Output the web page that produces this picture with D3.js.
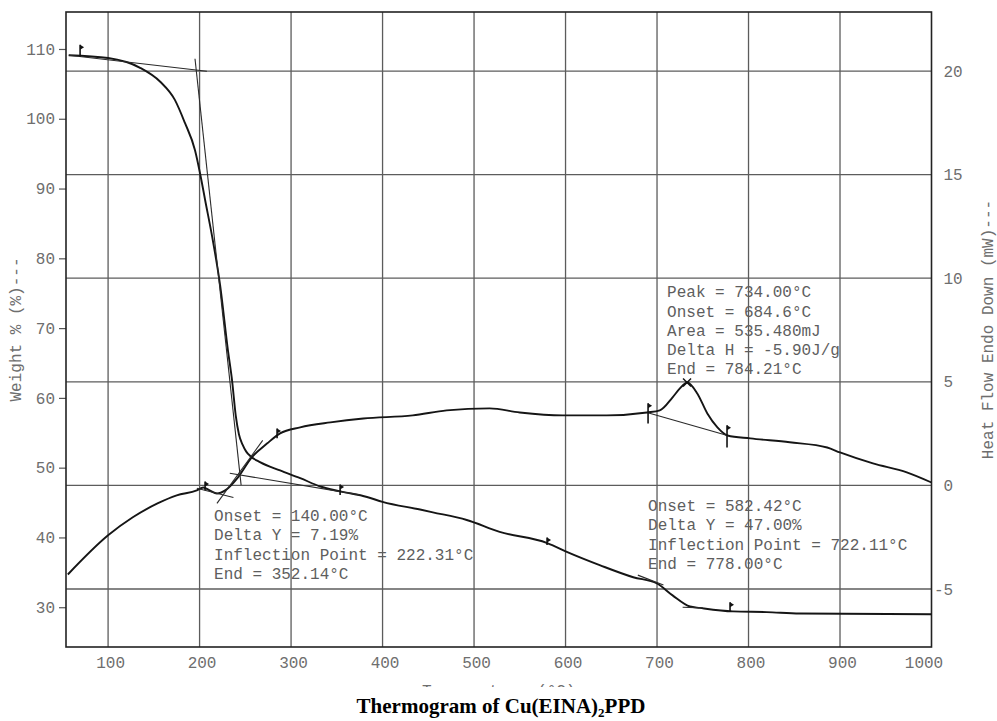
<!DOCTYPE html>
<html>
<head>
<meta charset="utf-8">
<script src="https://cdn.jsdelivr.net/npm/d3@7"></script>
<style>
  body { margin: 0; background: #fff; }
  svg { display: block; }
  .mono { font-family: "Liberation Mono", "DejaVu Sans Mono", monospace; font-size: 16px; fill: #6e6e6e; }
  .note { fill: #5e5e5e; }
</style>
</head>
<body>
<div id="chart"></div>
<script>
// axis ticks
const tempTicks = [100, 200, 300, 400, 500, 600, 700, 800, 900, 1000];
const weightTicks = [30, 40, 50, 60, 70, 80, 90, 100, 110];
const heatTicks = [-5, 0, 5, 10, 15, 20];

// TGA trace: temperature (°C) vs weight (%)
const tgaTemp = [57, 100, 135, 157, 173, 184, 195, 200.5, 206, 215, 222.4, 231, 235.5, 239.5, 243,
  247, 251, 256, 266, 288, 310, 332, 354, 383, 400, 441, 455, 492, 528, 580, 602, 638, 674,
  700, 717, 736, 747, 783, 820, 856, 1000];
const tgaWeight = [109.1, 108.7, 107.3, 105.3, 102.7, 99.4, 95.5, 92.2, 88.4, 82.2, 76.2, 66.8, 62.5,
  57.5, 54.8, 53.3, 52.3, 51.6, 50.8, 49.6, 48.5, 47.3, 46.6, 45.8, 45.1, 44.0, 43.6, 42.5, 40.8,
  39.2, 37.9, 36.0, 34.3, 33.4, 31.7, 30.1, 29.9, 29.4, 29.3, 29.1, 29.0];

// heat flow trace: temperature (°C) vs heat flow (mW)
const dscTemp = [56, 100, 127, 154, 175, 197, 204, 211, 219, 228, 242, 257, 274, 288, 310, 343, 379,
  433, 470, 517, 550, 597, 645, 689, 703, 717, 725, 733, 744, 755, 766, 777, 802, 845, 886, 900,
  936, 973, 1000];
const dscHeat = [-4.3, -2.41, -1.54, -0.87, -0.48, -0.24, -0.1, -0.24, -0.39, -0.24, 0.39, 1.35, 2.03,
  2.51, 2.8, 3.04, 3.23, 3.38, 3.62, 3.72, 3.52, 3.38, 3.38, 3.52, 3.62, 4.25, 4.68, 4.97, 4.44,
  3.47, 2.8, 2.41, 2.27, 2.08, 1.83, 1.59, 1.06, 0.63, 0.14];

// analysis construction lines [[t1, v1], [t2, v2]]
const tgaTangents = [
  [[57, 109.1], [208, 106.8]],
  [[195, 108.6], [245.4, 47.5]],
  [[233, 49.2], [375, 46.1]],
  [[679, 34.6], [707, 33.2]],
  [[728, 30.0], [750, 29.9]]
];
const heatTangents = [
  [[219, -0.87], [269, 2.17]],
  [[197, -0.14], [237, -0.58]],
  [[689, 3.52], [777, 2.41]]
];
// event markers [temp, top, bottom]
const tgaFlags = [[69.4, 110.6, 108.9], [353.6, 47.6, 46.1], [579.8, 40.0, 38.9], [779.8, 30.7, 29.3]];
const heatFlags = [[206, 0.19, -0.24], [284.7, 2.75, 2.27], [690.2, 3.96, 2.99], [776.5, 2.9, 1.83]];
const peakMark = [732.8, 4.97];

// result blocks
const step1Notes = ['Onset = 140.00°C', 'Delta Y = 7.19%', 'Inflection Point = 222.31°C', 'End = 352.14°C'];
const peakNotes = ['Peak = 734.00°C', 'Onset = 684.6°C', 'Area = 535.480mJ', 'Delta H = -5.90J/g', 'End = 784.21°C'];
const step2Notes = ['Onset = 582.42°C', 'Delta Y = 47.00%', 'Inflection Point = 722.11°C', 'End = 778.00°C'];

const margin = { top: 12, right: 65.5, bottom: 74, left: 66 };
const width = 997 - margin.left - margin.right;
const height = 721 - margin.top - margin.bottom;

const svg = d3.select('#chart').append('svg').attr('width', 997).attr('height', 721);
const plot = svg.append('g').attr('transform', `translate(${margin.left},${margin.top})`);

const x = d3.scaleLinear().domain([54, 1000]).range([0, width]);
const yW = d3.scaleLinear().domain([24.3, 115.3]).range([height, 0]);
const yH = d3.scaleLinear().domain([-7.8, 22.85]).range([height, 0]);

// grid
plot.append('g').selectAll('line').data(tempTicks.filter(d => d < 1000)).join('line')
  .attr('x1', d => x(d)).attr('x2', d => x(d)).attr('y1', 0).attr('y2', height)
  .attr('stroke', '#5c5c5c').attr('stroke-width', 1.3);
plot.append('g').selectAll('line').data(heatTicks).join('line')
  .attr('y1', d => yH(d)).attr('y2', d => yH(d)).attr('x1', 0).attr('x2', width)
  .attr('stroke', '#5c5c5c').attr('stroke-width', 1.3);

// axes
const left = plot.append('g')
  .call(d3.axisLeft(yW).tickValues(weightTicks).tickSize(7).tickPadding(4));
const bottom = plot.append('g').attr('transform', `translate(0,${height})`)
  .call(d3.axisBottom(x).tickValues(tempTicks).tickSize(0).tickPadding(10).tickFormat(d3.format('d')));
const right = plot.append('g').attr('transform', `translate(${width},0)`)
  .call(d3.axisRight(yH).tickValues(heatTicks).tickSize(0).tickPadding(12).tickFormat(d3.format('d')));
[left, bottom, right].forEach(a => {
  a.select('.domain').remove();
  a.selectAll('line').attr('stroke', '#555').attr('stroke-width', 1.2);
  a.selectAll('text').attr('class', 'mono').attr('font-size', null).attr('font-family', null)
    .attr('fill', null);
});
bottom.selectAll('text').attr('dx', d => d === 1000 ? -8 : 2);
right.selectAll('text').attr('x', d => 12 - (d < 0 ? 9.6 : 0)).text(d => d < 0 ? '-' + Math.abs(d) : d);

plot.append('rect').attr('width', width).attr('height', height)
  .attr('fill', 'none').attr('stroke', '#222').attr('stroke-width', 1.6);

// curves
const line = d3.line().x(d => x(d[0])).curve(d3.curveMonotoneX);
plot.append('path').datum(d3.zip(tgaTemp, tgaWeight))
  .attr('d', line.y(d => yW(d[1])))
  .attr('fill', 'none').attr('stroke', '#151515').attr('stroke-width', 1.9);
plot.append('path').datum(d3.zip(dscTemp, dscHeat))
  .attr('d', line.y(d => yH(d[1])))
  .attr('fill', 'none').attr('stroke', '#151515').attr('stroke-width', 1.9);

// construction lines
function tangents(data, y) {
  plot.append('g').selectAll('line').data(data).join('line')
    .attr('x1', d => x(d[0][0])).attr('y1', d => y(d[0][1]))
    .attr('x2', d => x(d[1][0])).attr('y2', d => y(d[1][1]))
    .attr('stroke', '#2a2a2a').attr('stroke-width', 1.1);
}
tangents(tgaTangents, yW);
tangents(heatTangents, yH);

function flags(data, y) {
  const g = plot.append('g').selectAll('g').data(data).join('g');
  g.append('line')
    .attr('x1', d => x(d[0])).attr('x2', d => x(d[0]))
    .attr('y1', d => y(d[1])).attr('y2', d => y(d[2]))
    .attr('stroke', '#111').attr('stroke-width', 1.6);
  g.append('path')
    .attr('d', d => `M${x(d[0])},${y(d[1])}l4,2.5l-4,2.5z`)
    .attr('fill', '#111');
}
flags(tgaFlags, yW);
flags(heatFlags, yH);

const px = x(peakMark[0]), py = yH(peakMark[1]);
plot.append('path').attr('d', `M${px - 4},${py - 4}L${px + 4},${py + 4}M${px + 4},${py - 4}L${px - 4},${py + 4}`)
  .attr('stroke', '#111').attr('stroke-width', 1.4);

// result blocks
function notes(lines, t, v, y) {
  plot.append('text').attr('class', 'mono note')
    .attr('x', x(t)).attr('y', y(v))
    .selectAll('tspan').data(lines).join('tspan')
    .attr('x', x(t)).attr('dy', (d, i) => i ? 19.2 : 0).text(d => d);
}
notes(step1Notes, 215.8, 42.33, yW);
notes(peakNotes, 711, 9.07, yH);
notes(step2Notes, 690.2, 43.76, yW);

// axis titles
svg.append('text').attr('class', 'mono')
  .attr('transform', `translate(21,${margin.top + height / 2}) rotate(-90)`)
  .attr('text-anchor', 'middle').text('Weight % (%)---');
svg.append('text').attr('class', 'mono')
  .attr('transform', `translate(993,${margin.top + height / 2}) rotate(-90)`)
  .attr('text-anchor', 'middle').text('Heat Flow Endo Down (mW)---');

// x title is cut off in the scan; only its top edge shows
svg.append('clipPath').attr('id', 'cut').append('rect')
  .attr('x', 0).attr('y', 0).attr('width', 997).attr('height', 687);
svg.append('text').attr('class', 'mono').attr('clip-path', 'url(#cut)')
  .attr('x', margin.left + width / 2).attr('y', 696).attr('text-anchor', 'middle')
  .text('Temperature (°C)');

const title = svg.append('text')
  .attr('x', 501).attr('y', 713).attr('text-anchor', 'middle')
  .style('font-family', '"Liberation Serif", "Times New Roman", serif')
  .style('font-weight', 'bold').style('font-size', '21px').attr('fill', '#000');
title.append('tspan').text('Thermogram of Cu(EINA)');
title.append('tspan').attr('dy', 4).style('font-size', '13px').text('2');
title.append('tspan').attr('dy', -4).text('PPD');
</script>
</body>
</html>
